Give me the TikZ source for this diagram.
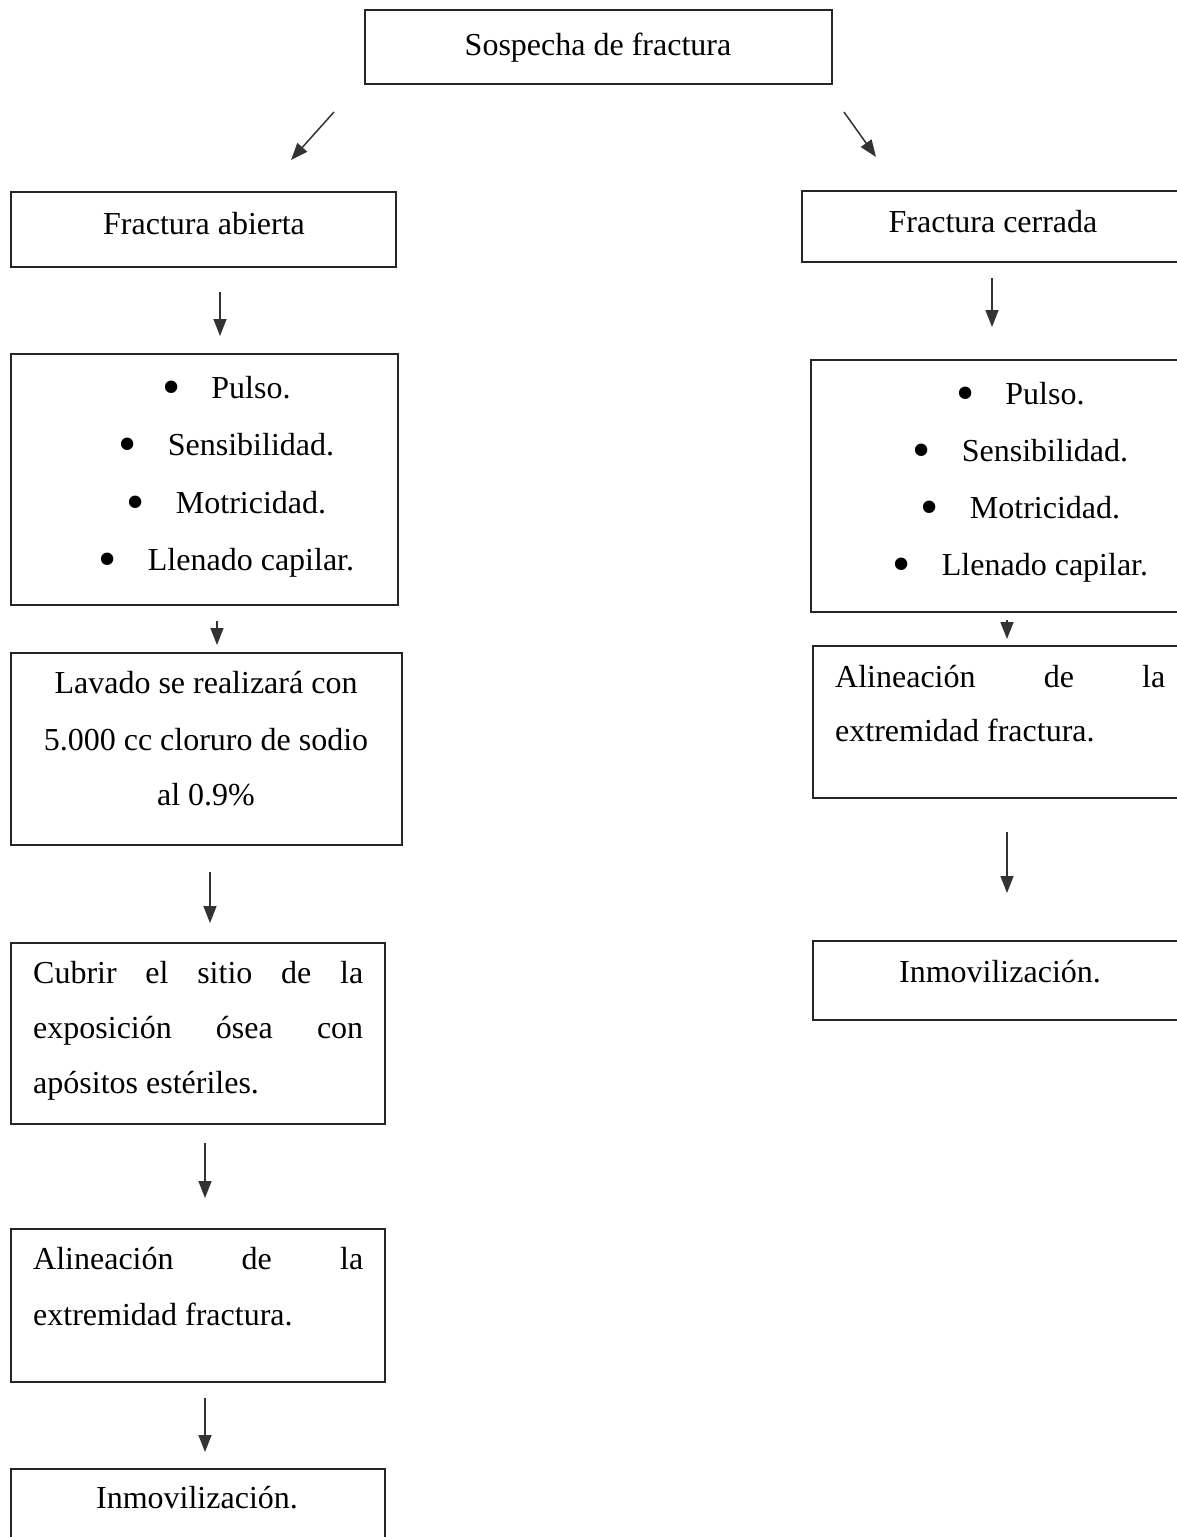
\documentclass[tikz,border=0pt]{standalone}
\usepackage{fontspec}
\setmainfont{Liberation Serif}
\usetikzlibrary{arrows.meta}

\tikzset{
  box/.style={draw=black!85, line width=1.8pt, inner sep=0pt, fill=none},
  txt/.style={inner sep=0pt, anchor=base, font=\fontsize{32}{36}\selectfont},
  txtl/.style={txt, anchor=base west},
  flow/.style={draw=black!80, line width=1.5pt, -{Triangle[length=17pt,width=13pt]}},
}
% list item: large round bullet, then the item text
\newcommand{\bul}[1]{\makebox[12pt][c]{\raisebox{-6pt}{\fontsize{52}{52}\selectfont\textbullet}}\hspace{34pt}#1}
% line stretched to the full text width
\newcommand{\spread}[1]{\makebox[330pt][s]{#1}}

\begin{document}
\begin{tikzpicture}[x=1pt,y=-1pt]
\useasboundingbox[fill=white] (0,0) rectangle (1177,1537);

% ---------- boxes ----------
\node[box, minimum width=467pt, minimum height=74pt]  (top) at (598.5,47)    {};
\node[box, minimum width=385pt, minimum height=75pt]  (fa)  at (203.5,229.5) {};
\node[box, minimum width=387pt, minimum height=251pt] (lb)  at (204.5,479.5) {};
\node[box, minimum width=391pt, minimum height=192pt] (lav) at (206.5,749)   {};
\node[box, minimum width=374pt, minimum height=181pt] (cub) at (198,1033.5)  {};
\node[box, minimum width=374pt, minimum height=153pt] (alL) at (198,1305.5)  {};
\node[box, minimum width=374pt, minimum height=131pt] (inL) at (198,1534.5)  {};

\node[box, minimum width=398pt, minimum height=71pt]  (fc)  at (1001,226.5)  {};
\node[box, minimum width=389pt, minimum height=252pt] (rb)  at (1005.5,486)  {};
\node[box, minimum width=387pt, minimum height=152pt] (alR) at (1006.5,722)  {};
\node[box, minimum width=387pt, minimum height=79pt]  (inR) at (1006.5,980.5) {};

% ---------- texts ----------
\node[txt] (t0) at (598,55)  {Sospecha de fractura};
\node[txt] (t1) at (204,234) {Fractura abierta};
\node[txt] (t2) at (993,232) {Fractura cerrada};

\node[txt] (lb1) at (228,398) {\bul{Pulso.}};
\node[txt] (lb2) at (228,455) {\bul{Sensibilidad.}};
\node[txt] (lb3) at (228,513) {\bul{Motricidad.}};
\node[txt] (lb4) at (228,570) {\bul{Llenado capilar.}};

\node[txt] (rb1) at (1022,404) {\bul{Pulso.}};
\node[txt] (rb2) at (1022,461) {\bul{Sensibilidad.}};
\node[txt] (rb3) at (1022,518) {\bul{Motricidad.}};
\node[txt] (rb4) at (1022,575) {\bul{Llenado capilar.}};

\node[txt] (lav1) at (206,693) {Lavado se realizará con};
\node[txt] (lav2) at (206,750) {5.000 cc cloruro de sodio};
\node[txt] (lav3) at (206,805) {al 0.9\%};

\node[txtl] (cub1) at (33,983)  {\spread{Cubrir el sitio de la}};
\node[txtl] (cub2) at (33,1038) {\spread{exposición ósea con}};
\node[txtl] (cub3) at (33,1093) {apósitos estériles.};

\node[txtl] (alL1) at (33,1269) {\spread{Alineación de la}};
\node[txtl] (alL2) at (33,1325) {extremidad fractura.};

\node[txtl] (alR1) at (835,687) {\spread{Alineación de la}};
\node[txtl] (alR2) at (835,741) {extremidad fractura.};

\node[txt] (inL1) at (197,1508) {Inmovilización.};
\node[txt] (inR1) at (1000,982) {Inmovilización.};

% ---------- arrows ----------
\coordinate (a1s) at (334,112);  \coordinate (a1e) at (291,160);
\coordinate (a2s) at (844,112);  \coordinate (a2e) at (876,157);
\coordinate (a3s) at (220,292);  \coordinate (a3e) at (220,336);
\coordinate (a4s) at (217,621);  \coordinate (a4e) at (217,645);
\coordinate (a5s) at (210,872);  \coordinate (a5e) at (210,923);
\coordinate (a6s) at (205,1143); \coordinate (a6e) at (205,1198);
\coordinate (a7s) at (205,1398); \coordinate (a7e) at (205,1452);
\coordinate (b1s) at (992,278);  \coordinate (b1e) at (992,327);
\coordinate (b2s) at (1007,620); \coordinate (b2e) at (1007,639);
\coordinate (b3s) at (1007,832); \coordinate (b3e) at (1007,893);

\foreach \a in {a1,a2,a3,a4,a5,a6,a7,b1,b2,b3}
  \draw[flow] (\a s) -- (\a e);
\end{tikzpicture}
\end{document}
